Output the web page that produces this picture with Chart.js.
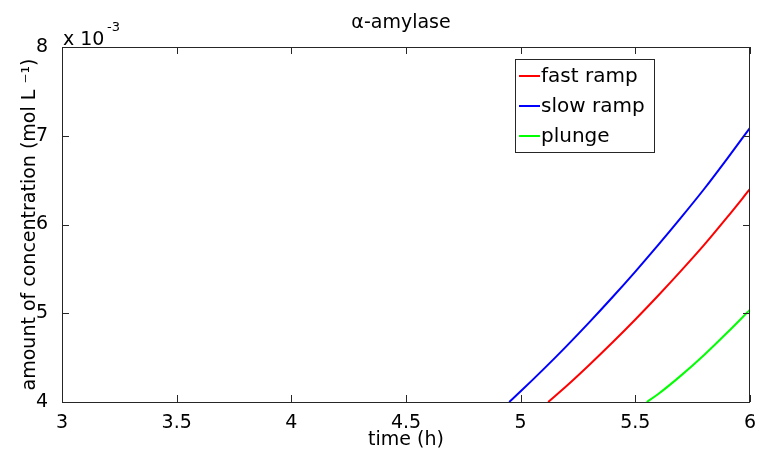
<!DOCTYPE html>
<html>
<head>
<meta charset="utf-8">
<script src="https://cdn.jsdelivr.net/npm/chart.js@4"></script>
<style>
  body { margin: 0; background: #fff; }
  #wrap { width: 758px; height: 458px; }
</style>
</head>
<body>
<div id="wrap"><canvas id="chart" width="758" height="458"></canvas></div>
<script>
// values, concentration in units of 10^-3 mol/L
const timeFast = [5.12, 5.2, 5.3, 5.4, 5.5, 5.6, 5.7, 5.8, 5.9, 6.0]
const fastRamp = [4.0, 4.18, 4.42, 4.67, 4.93, 5.2, 5.48, 5.77, 6.08, 6.4]
const timeSlow = [4.95, 5.0, 5.1, 5.2, 5.3, 5.4, 5.5, 5.6, 5.7, 5.8, 5.9, 6.0]
const slowRamp = [4.0, 4.12, 4.37, 4.63, 4.9, 5.18, 5.47, 5.77, 6.08, 6.4, 6.74, 7.09]
const timePlunge = [5.55, 5.6, 5.7, 5.8, 5.9, 6.0]
const plunge = [4.0, 4.09, 4.3, 4.53, 4.78, 5.04]
const xTicks = [3, 3.5, 4, 4.5, 5, 5.5, 6]
const yTicks = [4, 5, 6, 7, 8]

const FONT = '"DejaVu Sans", sans-serif'

const toPoints = (xs, ys) => xs.map((x, i) => ({ x: x, y: ys[i] }))

const series = [
  { label: 'fast ramp', data: toPoints(timeFast, fastRamp), color: '#ff0000' },
  { label: 'slow ramp', data: toPoints(timeSlow, slowRamp), color: '#0000ff' },
  { label: 'plunge', data: toPoints(timePlunge, plunge), color: '#00ff00' },
]

// MATLAB style frame, inward ticks, title, exponent and legend
const matlabBits = {
  id: 'matlabBits',
  afterDraw(chart) {
    const ctx = chart.ctx
    const a = chart.chartArea
    const xs = chart.scales.x
    const ys = chart.scales.y
    ctx.save()
    ctx.strokeStyle = '#262626'
    ctx.lineWidth = 1
    ctx.strokeRect(a.left + 0.5, a.top + 0.5, a.right - a.left - 1, a.bottom - a.top)
    ctx.beginPath()
    xTicks.forEach((t) => {
      const px = Math.round(xs.getPixelForValue(t)) + 0.5
      ctx.moveTo(px, a.bottom); ctx.lineTo(px, a.bottom - 7)
      ctx.moveTo(px, a.top); ctx.lineTo(px, a.top + 7)
    })
    yTicks.forEach((t) => {
      const py = Math.round(ys.getPixelForValue(t)) + 0.5
      ctx.moveTo(a.left, py); ctx.lineTo(a.left + 7, py)
      ctx.moveTo(a.right, py); ctx.lineTo(a.right - 7, py)
    })
    ctx.stroke()

    ctx.fillStyle = '#000'
    ctx.textBaseline = 'alphabetic'
    ctx.textAlign = 'center'
    ctx.font = '19px ' + FONT
    ctx.fillText('α-amylase', 401, 28)

    ctx.textAlign = 'left'
    ctx.font = '19px ' + FONT
    ctx.fillText('x 10', a.left + 1, 45)
    ctx.font = '13px ' + FONT
    ctx.fillText('-3', a.left + 45, 31)

    // legend box
    const lx = 515, ly = 59, lw = 139, lh = 93
    ctx.fillStyle = '#fff'
    ctx.fillRect(lx, ly, lw, lh)
    ctx.strokeStyle = '#262626'
    ctx.lineWidth = 1
    ctx.strokeRect(lx + 0.5, ly + 0.5, lw, lh)
    ctx.font = '20px ' + FONT
    ctx.textBaseline = 'middle'
    chart.data.datasets.forEach((ds, i) => {
      const y = 76 + i * 30
      ctx.strokeStyle = ds.borderColor
      ctx.lineWidth = 2
      ctx.beginPath()
      ctx.moveTo(lx + 4, y); ctx.lineTo(lx + 25, y)
      ctx.stroke()
      ctx.fillStyle = '#000'
      ctx.fillText(ds.label, lx + 26, y + 1)
    })
    ctx.restore()
  },
}

new Chart(document.getElementById('chart'), {
  type: 'line',
  data: {
    datasets: series.map((s) => ({
      label: s.label,
      data: s.data,
      borderColor: s.color,
      backgroundColor: s.color,
      borderWidth: 2,
      pointRadius: 0,
      cubicInterpolationMode: 'monotone',
      fill: false,
    })),
  },
  options: {
    responsive: false,
    animation: false,
    layout: { padding: { top: 47, right: 8, left: 0, bottom: 0 } },
    plugins: {
      legend: { display: false },
      title: { display: false },
      tooltip: { enabled: false },
    },
    scales: {
      x: {
        type: 'linear',
        min: 3,
        max: 6,
        afterFit: (scale) => {
          scale.height = 56
          scale.paddingLeft = 0
          scale.paddingRight = 0
        },
        afterBuildTicks: (scale) => { scale.ticks = xTicks.map((v) => ({ value: v })) },
        grid: { display: false },
        border: { display: false },
        ticks: {
          color: '#000',
          font: { family: FONT, size: 19 },
          padding: 2,
          maxRotation: 0,
          callback: (value) => String(value),
        },
        title: {
          display: true,
          text: 'time (h)',
          color: '#000',
          font: { family: FONT, size: 19 },
          padding: { top: 0, bottom: 7 },
        },
      },
      y: {
        type: 'linear',
        min: 4,
        max: 8,
        afterFit: (scale) => { scale.width = 62 },
        afterBuildTicks: (scale) => { scale.ticks = yTicks.map((v) => ({ value: v })) },
        grid: { display: false },
        border: { display: false },
        ticks: {
          color: '#000',
          font: { family: FONT, size: 19 },
          padding: 6,
          callback: (value) => String(value),
        },
        title: {
          display: true,
          text: 'amount of concentration (mol L ⁻¹)',
          color: '#000',
          font: { family: FONT, size: 19 },
          padding: { top: 19, bottom: 0 },
        },
      },
    },
  },
  plugins: [matlabBits],
})
</script>
</body>
</html>
